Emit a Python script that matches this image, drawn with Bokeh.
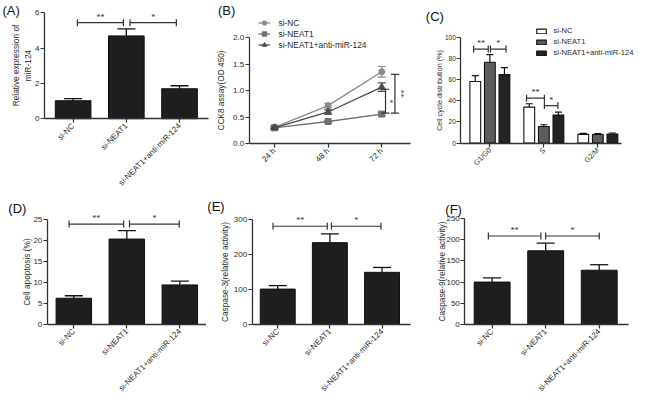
import math
from bokeh.plotting import figure
from bokeh.layouts import row, column
from bokeh.models import FixedTicker, Label, NumeralTickFormatter, Range1d
from bokeh.embed import file_html
from bokeh.resources import INLINE

# ---------------- data ----------------
groups = ["si-NC", "si-NEAT1", "si-NEAT1+anti-miR-124"]
times = ["24 h", "48 h", "72 h"]
phases = ["G1/G0", "S", "G2/M"]

mir124_mean = [1.02, 4.70, 1.70]
mir124_sd = [0.12, 0.40, 0.17]

cck8_nc = [0.31, 0.72, 1.36]
cck8_nc_sd = [0.02, 0.045, 0.10]
cck8_neat1 = [0.30, 0.42, 0.56]
cck8_neat1_sd = [0.02, 0.02, 0.03]
cck8_anti = [0.30, 0.60, 1.07]
cck8_anti_sd = [0.02, 0.04, 0.08]

cycle_nc = [58.3, 34.0, 8.2]
cycle_nc_sd = [5.5, 3.2, 1.0]
cycle_neat1 = [76.5, 15.7, 8.0]
cycle_neat1_sd = [7.2, 1.6, 1.0]
cycle_anti = [65.0, 26.6, 8.5]
cycle_anti_sd = [6.5, 2.6, 1.0]

apoptosis_mean = [6.2, 20.4, 9.4]
apoptosis_sd = [0.6, 2.0, 0.9]

casp3_mean = [101, 234, 149]
casp3_sd = [10, 25, 14]

casp9_mean = [100, 174, 128]
casp9_sd = [10, 18, 13]

# ---------------- styling / layout helpers ----------------
FONT = "Liberation Sans"
TXT = "#2a2a2a"
AX = "#333333"
BAR = "#1e1e1e"
SX = 636 / 652
SY = 394 / 410
CELL_PX = {}


def sx(v):
    return int(round(v * SX))


def sy(v):
    return int(round(v * SY))


def make_fig(cell, frame, xr, yr, yticks, ylabel, letter, letter_pos, xlabels,
             ytick_fs="8px", xtick_fs="8px", ylab_fs="8.3px", ylab_standoff=2):
    """The plotting frame covers the whole cell; axes are pinned with fixed_location."""
    cx0, cy0, cx1, cy1 = cell
    fx0, fy0, fx1, fy1 = frame
    X0, X1, Y0, Y1 = sx(cx0), sx(cx1), sy(cy0), sy(cy1)
    W, H = X1 - X0, Y1 - Y0
    f0, f1 = fx0 * SX - X0, fx1 * SX - X0
    g0, g1 = fy0 * SY - Y0, fy1 * SY - Y0
    a, b = xr
    c, d = yr
    kx = (f1 - f0) / (b - a)
    ky = (g1 - g0) / (d - c)
    xs, xe = a - f0 / kx, b + (W - f1) / kx
    ys, ye = c - (H - g1) / ky, d + g0 / ky
    p = figure(width=W, height=H, output_backend="svg", toolbar_location=None,
               x_range=Range1d(xs, xe), y_range=Range1d(ys, ye),
               min_border_left=0, min_border_right=0, min_border_top=0, min_border_bottom=0)
    p.outline_line_color = None
    p.grid.visible = False
    p.background_fill_color = "white"
    p.border_fill_color = "white"
    for ax in (p.xaxis[0], p.yaxis[0]):
        ax.axis_line_color = AX
        ax.axis_line_width = 1.3
        ax.major_tick_line_color = AX
        ax.major_tick_line_width = 1.2
        ax.major_tick_out = 4
        ax.major_tick_in = 0
        ax.minor_tick_line_color = None
        ax.major_label_text_font = FONT
        ax.major_label_text_color = TXT
        ax.axis_label_text_font = FONT
        ax.axis_label_text_font_style = "normal"
        ax.axis_label_text_color = TXT
    p.yaxis.major_label_text_font_size = ytick_fs
    p.xaxis.major_label_text_font_size = xtick_fs
    p.yaxis.axis_label_text_font_size = ylab_fs
    p.yaxis.fixed_location = a
    p.yaxis.bounds = (c, d)
    p.xaxis.fixed_location = c
    p.xaxis.bounds = (a, b)
    p.yaxis.ticker = FixedTicker(ticks=yticks)
    p.yaxis.axis_label = ylabel
    p.yaxis.major_label_standoff = 1
    p.yaxis.axis_label_standoff = ylab_standoff
    p.xaxis.ticker = FixedTicker(ticks=list(range(len(xlabels))))
    p.xaxis.major_label_overrides = {i: lab for i, lab in enumerate(xlabels)}
    p.xaxis.major_label_orientation = math.pi / 4
    p.xaxis.major_label_standoff = 2
    lx, ly = letter_pos
    p.add_layout(Label(x=lx * SX - X0, y=H - (ly * SY - Y0), x_units="screen", y_units="screen",
                       text=letter, text_font=FONT, text_font_size="13px", text_color="#111",
                       text_baseline="top", text_align="left"))
    CELL_PX[id(p)] = (X0, Y0, W, H)
    return p


def h_brackets(p, specs, y, cap=7):
    for stars, x0, x1 in specs:
        p.segment(x0=[x0], y0=[y], x1=[x1], y1=[y], line_color=AX, line_width=1.2)
        p.scatter(x=[x0, x1], y=[y, y], marker="dash", angle=math.pi / 2, size=cap,
                  line_color=AX, line_width=1.2)
        p.text(x=[(x0 + x1) / 2], y=[y], text=[stars], text_font=FONT, text_font_size="8px",
               text_color=TXT, text_align="center", text_baseline="bottom", y_offset=-1)


def bar_panel(cell, frame, xr, yend, yticks, means, sds, ylabel, letter, letter_pos,
              bracket_specs, bracket_y, ylab_standoff, width=0.67, cap=18):
    p = make_fig(cell, frame, xr, (0, yend), yticks, ylabel, letter, letter_pos, groups,
                 ylab_standoff=ylab_standoff)
    x = list(range(len(means)))
    tops = [m + s for m, s in zip(means, sds)]
    p.segment(x0=x, y0=means, x1=x, y1=tops, line_color="#111", line_width=1.3)
    p.scatter(x=x, y=tops, marker="dash", size=cap, line_color="#111", line_width=1.3)
    p.vbar(x=x, top=means, width=width, fill_color=BAR, line_color="#111", line_width=1)
    h_brackets(p, bracket_specs, bracket_y)
    return p


def style_legend(p, left_ref, top_ref, rows, row_h, font_size, glyph_h, standoff):
    X0, Y0, W, H = CELL_PX[id(p)]
    lg = p.legend[0]
    height = rows * row_h
    lg.location = (left_ref * SX - X0, H - (top_ref * SY - Y0) - height)
    lg.padding = 0
    lg.margin = 0
    lg.spacing = 0
    lg.glyph_width = 12
    lg.glyph_height = glyph_h
    lg.label_height = row_h
    lg.label_standoff = standoff
    lg.label_text_font = FONT
    lg.label_text_font_size = font_size
    lg.label_text_color = TXT
    lg.background_fill_alpha = 0
    lg.border_line_alpha = 0


# ---------------- (A) ----------------
pA = bar_panel((0, 0, 218, 203), (45, 13, 213, 123), (-0.54, 2.54), 6, [0, 2, 4, 6],
               mir124_mean, mir124_sd, "Relative expression of\nmiR-124", "(A)", (2, 3),
               [("**", 0.08, 0.945), ("*", 1.07, 1.94)], 5.45, ylab_standoff=-1)

# ---------------- (B) ----------------
pB = make_fig((218, 0, 428, 203), (255, 39, 420, 149), (-0.47, 2.53), (0, 2),
              [0, 0.5, 1.0, 1.5, 2.0], "CCK8 assay(OD 450)", "(B)", (223, 3), times,
              ylab_standoff=4)
pB.yaxis.formatter = NumeralTickFormatter(format="0.0")
xt = list(range(len(times)))
series = [
    (groups[0], cck8_nc, cck8_nc_sd, "circle", "#8a8a8a", 6),
    (groups[1], cck8_neat1, cck8_neat1_sd, "square", "#707070", 6),
    (groups[2], cck8_anti, cck8_anti_sd, "triangle", "#4a4a4a", 7),
]
for name, vals, sds, mk, col, sz in series:
    lo = [v - s for v, s in zip(vals, sds)]
    hi = [v + s for v, s in zip(vals, sds)]
    pB.segment(x0=xt, y0=lo, x1=xt, y1=hi, line_color=col, line_width=1.1)
    pB.scatter(x=xt + xt, y=lo + hi, marker="dash", size=8, line_color=col, line_width=1.1)
    pB.line(x=xt, y=vals, line_color=col, line_width=1.3, legend_label=name)
    pB.scatter(x=xt, y=vals, marker=mk, size=sz, fill_color=col, line_color=col, legend_label=name)
for stars, xb, y0, y1, xs in [("*", 2.07, 0.58, 1.03, 2.15), ("**", 2.245, 0.58, 1.31, 2.345)]:
    pB.segment(x0=[xb], y0=[y0], x1=[xb], y1=[y1], line_color=AX, line_width=1.2)
    pB.scatter(x=[xb, xb], y=[y0, y1], marker="dash", size=8, line_color=AX, line_width=1.2)
    pB.text(x=[xs], y=[(y0 + y1) / 2], text=[stars], text_font=FONT, text_font_size="8px",
            text_color=TXT, text_align="center", text_baseline="middle", angle=-math.pi / 2)
style_legend(pB, 265, 18, 3, 11, "8.4px", 11, 8)

# ---------------- (C) ----------------
pC = make_fig((428, 0, 652, 203), (472, 38.5, 637, 148.3), (-0.536, 2.445), (0, 100),
              [0, 20, 40, 60, 80, 100], "Cell cycle distribution (%)", "(C)", (436, 9), phases,
              ytick_fs="6.6px", xtick_fs="7.2px", ylab_fs="7.2px", ylab_standoff=-3)
xc = list(range(len(phases)))
cyc = [
    (groups[0], cycle_nc, cycle_nc_sd, -0.27, "white"),
    (groups[1], cycle_neat1, cycle_neat1_sd, 0.0, "#5c5c5c"),
    (groups[2], cycle_anti, cycle_anti_sd, 0.27, "#232323"),
]
for name, vals, sds, off, col in cyc:
    xs_ = [i + off for i in xc]
    tops = [v + s for v, s in zip(vals, sds)]
    pC.segment(x0=xs_, y0=vals, x1=xs_, y1=tops, line_color="#111", line_width=1.2)
    pC.scatter(x=xs_, y=tops, marker="dash", size=7, line_color="#111", line_width=1.2)
    pC.vbar(x=xs_, top=vals, width=0.2, fill_color=col, line_color="#111", line_width=1.1,
            legend_label=name)
h_brackets(pC, [("**", -0.30, -0.03), ("*", 0.01, 0.30)], 89)
h_brackets(pC, [("**", 0.68, 1.01)], 42.5)
h_brackets(pC, [("*", 1.01, 1.26)], 35.5)
style_legend(pC, 548, 26.5, 3, 11, "7.6px", 6, 7)

# ---------------- (D) (E) (F) ----------------
pD = bar_panel((0, 203, 211, 410), (48, 228.3, 211, 336.7), (-0.5, 2.5), 25, [0, 5, 10, 15, 20, 25],
               apoptosis_mean, apoptosis_sd, "Cell apoptosis (%)", "(D)", (8, 209),
               [("**", -0.09, 0.94), ("*", 1.05, 1.99)], 24, ylab_standoff=-1)
pE = bar_panel((211, 203, 428, 410), (258, 228, 420, 337), (-0.49, 2.54), 300, [0, 100, 200, 300],
               casp3_mean, casp3_sd, "Caspase-3(relative activity)", "(E)", (212, 207),
               [("**", -0.09, 0.95), ("*", 1.03, 1.98)], 281, ylab_standoff=1)
pF = bar_panel((428, 203, 652, 410), (476, 227, 644, 337), (-0.51, 2.55), 250, [0, 50, 100, 150, 200, 250],
               casp9_mean, casp9_sd, "Caspase-9(relative activity)", "(F)", (456, 210),
               [("**", -0.07, 0.91), ("*", 1.0, 2.0)], 209, ylab_standoff=-4)

layout = column(row(pA, pB, pC), row(pD, pE, pF))
open("out.html", "w").write(file_html(layout, INLINE))
